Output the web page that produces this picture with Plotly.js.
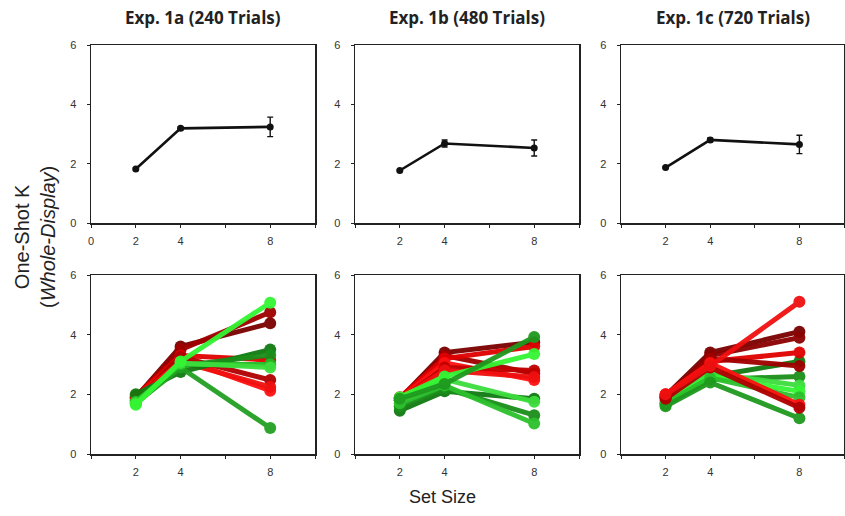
<!DOCTYPE html>
<html>
<head>
<meta charset="utf-8">
<script src="https://cdn.plot.ly/plotly-3.0.1.min.js"></script>
<style>html,body{margin:0;padding:0;background:#fff;}#chart{width:845px;height:516px;}</style>
</head>
<body>
<div id="chart"></div>
<script>
// ---- data ----
const setSizes = [2, 4, 8];
const panelTitles = ["Exp. 1a (240 Trials)", "Exp. 1b (480 Trials)", "Exp. 1c (720 Trials)"];

const meanA = [1.82, 3.19, 3.24];
const errA  = [0.03, 0.05, 0.33];
const meanB = [1.77, 2.68, 2.53];
const errB  = [0.03, 0.12, 0.27];
const meanC = [1.87, 2.80, 2.65];
const errC  = [0.03, 0.07, 0.31];

// individual participants (K at set sizes 2, 4, 8)
const subjectsA = [
  [1.90, 3.60, 4.38],
  [1.85, 3.50, 4.75],
  [1.95, 3.30, 3.15],
  [1.90, 3.20, 2.12],
  [1.80, 3.25, 2.48],
  [1.85, 3.10, 2.25],
  [2.00, 2.75, 3.50],
  [1.75, 2.95, 3.32],
  [1.70, 2.90, 0.87],
  [1.75, 3.00, 3.00],
  [1.70, 3.05, 2.90],
  [1.65, 3.10, 5.07]
];
const colorsA = ["#7a0000","#a00000","#e00000","#ff1010","#b00000","#f01010",
                 "#107a10","#1a8f1a","#22a022","#22bb22","#3ddd3d","#33f533"];

const subjectsB = [
  [1.85, 3.40, 3.75],
  [1.80, 3.30, 2.70],
  [1.90, 3.20, 3.60],
  [1.85, 3.05, 2.48],
  [1.80, 2.90, 2.80],
  [1.85, 2.80, 2.58],
  [1.45, 2.10, 1.85],
  [1.60, 2.20, 1.30],
  [1.70, 2.30, 1.02],
  [1.85, 2.50, 1.75],
  [1.90, 2.60, 3.35],
  [1.85, 2.35, 3.92]
];
const colorsB = ["#7a0000","#a00000","#e00000","#ff1010","#c00000","#f01010",
                 "#107a10","#1a8f1a","#2cc02c","#3ddd3d","#33f533","#1e9a1e"];

const subjectsC = [
  [1.70, 2.60, 3.10],
  [1.65, 2.50, 2.60],
  [1.80, 2.70, 2.30],
  [1.75, 2.60, 2.10],
  [1.70, 2.55, 1.90],
  [1.60, 2.40, 1.20],
  [1.95, 3.40, 4.10],
  [1.90, 3.30, 3.90],
  [1.95, 3.10, 3.40],
  [1.90, 3.20, 2.95],
  [2.00, 3.05, 1.65],
  [1.85, 2.90, 1.55],
  [2.00, 2.95, 5.10]
];
const colorsC = ["#107a10","#1a8f1a","#3ddd3d","#33f533","#2cc02c","#1e9a1e",
                 "#7a0000","#8c0000","#e00000","#a00000","#ff1010","#b00000","#f01010"];

// ---- build ----
const means = [meanA, meanB, meanC];
const errs = [errA, errB, errC];
const subjects = [subjectsA, subjectsB, subjectsC];
const colors = [colorsA, colorsB, colorsC];

const W = 845, H = 516;
const xDom = [[91/W, 315/W], [355/W, 579/W], [621/W, 844/W]];
const topDom = [1 - 223/H, 1 - 45/H];
const botDom = [1 - 454/H, 1 - 275/H];

const traces = [];
const layout = {
  width: W, height: H,
  margin: {l: 0, r: 0, t: 0, b: 0},
  paper_bgcolor: "#fff", plot_bgcolor: "#fff",
  showlegend: false,
  annotations: []
};

const tickFont = {family: "Liberation Sans, Arial, sans-serif", size: 11, color: "#333"};

function axisX(dom, anchor, showZero) {
  return {
    domain: dom, anchor: anchor, range: [0, 10],
    tickvals: [0, 2, 4, 6, 8, 10],
    ticktext: [showZero ? "0" : "", "2", "4", "", "8", ""],
    ticks: "outside", ticklen: 3, tickwidth: 1, tickcolor: "#222",
    showline: true, linecolor: "#222", linewidth: 1.5, mirror: true,
    showgrid: false, zeroline: false, tickfont: tickFont,
    ticklabelstandoff: 4, fixedrange: true
  };
}
function axisY(dom, anchor) {
  return {
    domain: dom, anchor: anchor, range: [0, 6],
    tickvals: [0, 2, 4, 6], ticktext: ["0", "2", "4", "6"],
    ticks: "outside", ticklen: 3, tickwidth: 1, tickcolor: "#222",
    showline: true, linecolor: "#222", linewidth: 1.5, mirror: true,
    showgrid: false, zeroline: false, tickfont: tickFont,
    ticklabelstandoff: 8, fixedrange: true
  };
}

for (let p = 0; p < 3; p++) {
  const ti = 2 * p + 1, bi = 2 * p + 2;
  const tx = "x" + ti, ty = "y" + ti, bx = "x" + bi, by = "y" + bi;
  layout["xaxis" + ti] = axisX(xDom[p], ty, p === 0);
  layout["yaxis" + ti] = axisY(topDom, tx);
  layout["xaxis" + bi] = axisX(xDom[p], by, false);
  layout["yaxis" + bi] = axisY(botDom, bx);

  traces.push({
    x: setSizes, y: means[p], xaxis: tx, yaxis: ty,
    type: "scatter", mode: "lines+markers",
    line: {color: "#111", width: 2.6},
    marker: {color: "#111", size: 7},
    error_y: {type: "data", array: errs[p], visible: true, color: "#111", thickness: 1.4, width: 3}
  });

  subjects[p].forEach((s, i) => {
    traces.push({
      x: setSizes, y: s, xaxis: bx, yaxis: by,
      type: "scatter", mode: "lines+markers",
      opacity: 0.95,
      line: {color: colors[p][i], width: 5},
      marker: {color: colors[p][i], size: 12}
    });
  });

  layout.annotations.push({
    text: "<b>" + panelTitles[p] + "</b>",
    xref: "paper", yref: "paper",
    x: (xDom[p][0] + xDom[p][1]) / 2, y: 1 - 18/H,
    xanchor: "center", yanchor: "middle", showarrow: false,
    font: {family: "Open Sans, sans-serif", size: 17, color: "#222"}
  });
}

layout.annotations.push({
  text: "One-Shot K<br>(<i>Whole-Display</i>)",
  xref: "paper", yref: "paper", x: 35/W, y: 1 - 237/H,
  xanchor: "center", yanchor: "middle", textangle: -90, showarrow: false,
  font: {family: "Liberation Sans, Arial, sans-serif", size: 20, color: "#222"}
});
layout.annotations.push({
  text: "Set Size",
  xref: "paper", yref: "paper", x: 442/W, y: 1 - 497/H,
  xanchor: "center", yanchor: "middle", showarrow: false,
  font: {family: "Liberation Sans, Arial, sans-serif", size: 18, color: "#222"}
});

Plotly.newPlot("chart", traces, layout, {staticPlot: true, displayModeBar: false});
</script>
</body>
</html>
